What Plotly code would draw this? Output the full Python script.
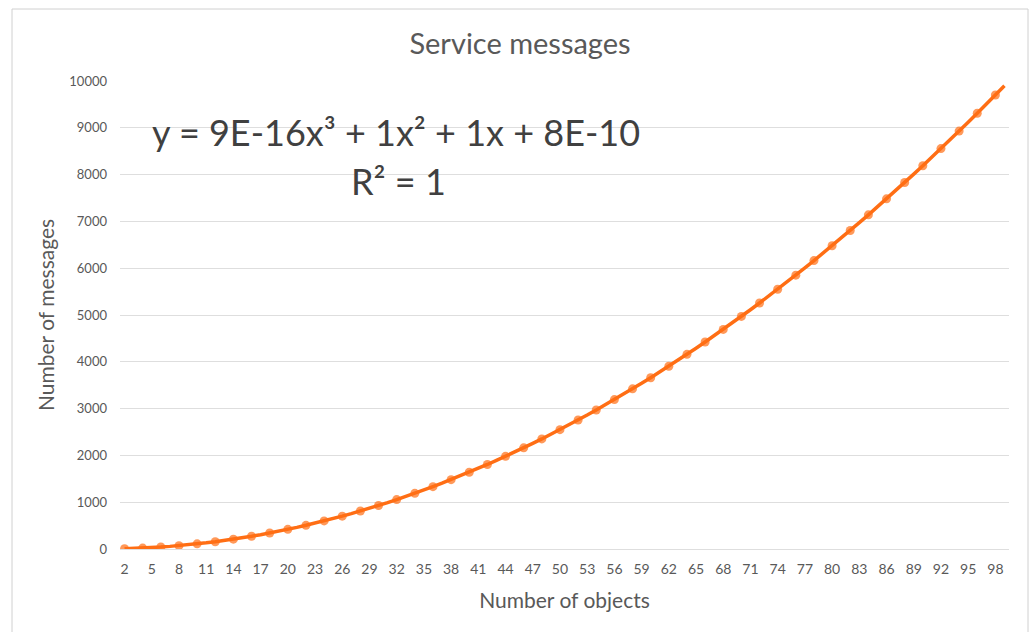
import plotly.graph_objects as go

# ---- data ----
objects = list(range(2, 100))
messages = [6, 12, 20, 30, 42, 56, 72, 90, 110, 132, 156, 182, 210, 240, 272, 306, 342, 380,
            420, 462, 506, 552, 600, 650, 702, 756, 812, 870, 930, 992, 1056, 1122, 1190, 1260,
            1332, 1406, 1482, 1560, 1640, 1722, 1806, 1892, 1980, 2070, 2162, 2256, 2352, 2450,
            2550, 2652, 2756, 2862, 2970, 3080, 3192, 3306, 3422, 3540, 3660, 3782, 3906, 4032,
            4160, 4290, 4422, 4556, 4692, 4830, 4970, 5112, 5256, 5402, 5550, 5700, 5852, 6006,
            6162, 6320, 6480, 6642, 6806, 6972, 7140, 7310, 7482, 7656, 7832, 8010, 8190, 8372,
            8556, 8742, 8930, 9120, 9312, 9506, 9702, 9900]
x_ticks = list(range(2, 99, 3))
y_ticks = list(range(0, 10001, 1000))

title_text = "Service messages"
x_title = "Number of objects"
y_title = "Number of messages"
equation = "y = 9E-16x³ + 1x² + 1x + 8E-10"
r2_text = "R² = 1"

ORANGE = "#ff6e14"
GREY = "#595959"
FONT = "Lato"

marker_sizes = [9 if (x % 2 == 0) else 0 for x in objects]

fig = go.Figure()
fig.add_trace(go.Scatter(
    x=objects, y=messages, mode="lines+markers",
    line=dict(color=ORANGE, width=3.5),
    marker=dict(color=ORANGE, size=marker_sizes, line=dict(width=0)),
    showlegend=False, hoverinfo="x+y",
))

fig.update_layout(
    width=1035, height=632,
    margin=dict(l=120, r=26, t=81, b=83),
    paper_bgcolor="white", plot_bgcolor="white",
    font=dict(family=FONT, color=GREY),
    title=dict(text=title_text, x=520 / 1035, xref="container", xanchor="center",
               y=1 - 44 / 632, yref="container", yanchor="middle",
               font=dict(size=29, color=GREY, family=FONT)),
    xaxis=dict(
        range=[1.5, 99.5], tickmode="array", tickvals=x_ticks,
        ticktext=[str(t) for t in x_ticks],
        showgrid=False, zeroline=False, showline=False, ticks="",
        tickfont=dict(size=14, color=GREY), ticklabelstandoff=10,
        title=dict(text=x_title, font=dict(size=21, color=GREY), standoff=17),
        automargin=False,
    ),
    yaxis=dict(
        range=[0, 10000], tickmode="array", tickvals=y_ticks,
        ticktext=[str(t) for t in y_ticks],
        showgrid=True, gridcolor="#dedede", gridwidth=1,
        zeroline=True, zerolinecolor="#dedede", zerolinewidth=1,
        showline=False, ticks="",
        tickfont=dict(size=13, color=GREY), ticklabelstandoff=12,
        title=dict(text=y_title, font=dict(size=21, color=GREY), standoff=8),
        automargin=False,
    ),
    shapes=[dict(type="rect", xref="paper", yref="paper",
                 x0=(12 - 120) / 889, x1=(1028 - 120) / 889,
                 y0=-0.3, y1=1 + (81 - 9) / 468,
                 line=dict(color="#d0d0d0", width=1), fillcolor="rgba(0,0,0,0)",
                 layer="below")],
    annotations=[
        dict(text=equation, xref="paper", yref="paper",
             x=(396 - 120) / 889, y=(549 - 132) / 468, xanchor="center", yanchor="middle",
             showarrow=False, font=dict(size=36, color="#404040", family=FONT)),
        dict(text=r2_text, xref="paper", yref="paper",
             x=(398 - 120) / 889, y=(549 - 181) / 468, xanchor="center", yanchor="middle",
             showarrow=False, font=dict(size=36, color="#404040", family=FONT)),
    ],
)

fig.write_html("out.html", config={"displayModeBar": False},
               post_script="document.body.style.margin='0';")
